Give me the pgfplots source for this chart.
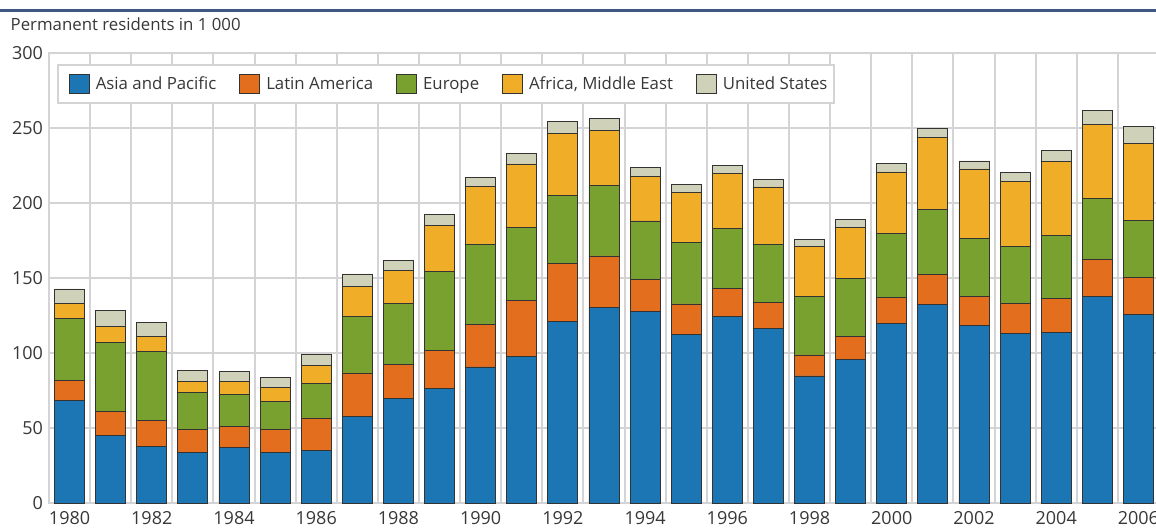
\documentclass[border=0pt]{standalone}
\usepackage{pgfplots}
\pgfplotsset{compat=1.18}
\usepackage{pgfplotstable}
\usepackage{fontspec}
\setmainfont{Open Sans}

\definecolor{asiac}{RGB}{29,118,180}
\definecolor{latinc}{RGB}{227,111,30}
\definecolor{europec}{RGB}{121,161,48}
\definecolor{africac}{RGB}{240,174,40}
\definecolor{usc}{RGB}{207,209,185}
\definecolor{gridgray}{RGB}{212,212,214}
\definecolor{txtgray}{RGB}{55,55,55}
\definecolor{titleblue}{RGB}{62,88,130}

\pgfplotstableread{
idx asia latin europe africa us
0  68.4 13.6 41.3  9.6  9.8
1  44.9 16.0 46.2 10.5 10.6
2  37.8 17.1 46.2  9.8  9.5
3  33.5 15.6 24.4  7.4  7.6
4  37.3 13.8 21.4  8.4  6.9
5  33.8 15.3 18.9  9.1  6.9
6  35.1 21.6 22.9 12.2  7.3
7  57.8 28.9 37.7 20.0  8.3
8  69.6 22.6 40.7 22.4  6.7
9  76.2 25.8 52.2 31.1  7.1
10 90.7 28.4 53.1 38.7  6.4
11 98.0 37.3 48.5 42.2  6.9
12 121.3 38.3 45.3 41.5 8.0
13 130.4 34.3 46.9 36.8 7.8
14 128.0 21.1 38.9 29.6 6.2
15 112.2 20.5 41.3 33.1 5.1
16 124.2 18.9 40.0 36.7 5.5
17 116.4 17.6 38.4 38.3 4.9
18 84.7 14.0 39.3 33.3 4.7
19 95.8 15.1 39.1 33.6 5.5
20 119.8 17.1 42.9 40.9 5.7
21 132.2 20.2 43.2 48.2 6.0
22 118.2 19.6 38.6 46.3 5.3
23 113.1 20.2 37.6 43.5 6.0
24 113.8 22.4 42.0 49.4 7.5
25 137.6 24.6 40.7 49.3 9.4
26 125.8 24.4 38.0 51.6 11.1
}\data

\begin{document}
\begin{tikzpicture}
\path[use as bounding box] (0pt,0pt) rectangle (1156pt,528pt);
\draw[line width=3pt, titleblue] (0pt,517.5pt) -- (1156pt,517.5pt);
\node[anchor=base west, inner sep=0pt, text=txtgray, font=\fontsize{16.8}{20}\selectfont] at (10.5pt,497.3pt) {Permanent residents in 1 000};
\begin{axis}[
  at={(49pt,25pt)}, anchor=south west,
  scale only axis, width=1110pt, height=450pt,
  xmin=-0.5, xmax=26.5, ymin=0, ymax=300,
  ybar stacked, bar width=0.73,
  xtick={0,2,...,26},
  xticklabels={1980,1982,1984,1986,1988,1990,1992,1994,1996,1998,2000,2002,2004,2006},
  minor xtick={-0.5,0.5,...,26.5},
  ytick={0,50,...,300},
  yticklabels={0,50,100,150,200,250,300},
  xmajorgrids=false, xminorgrids=true, ymajorgrids=true,
  grid style={draw=gridgray, line width=2pt},
  minor grid style={draw=gridgray, line width=2pt},
  axis line style={draw=gridgray, line width=2pt},
  major tick length=0pt, minor tick length=0pt,
  tick label style={text=txtgray, font=\fontsize{18}{21}\selectfont},
  xticklabel style={yshift=-4.5pt},
  yticklabel style={xshift=-2.5pt},
  /pgf/number format/assume math mode=true,
  legend columns=5,
  legend style={at={(0.0072,0.9756)}, anchor=north west, draw=gridgray, line width=2pt, fill=white,
    font=\fontsize{16.8}{20}\selectfont, text=txtgray,
    inner xsep=6pt, inner ysep=9pt,
    nodes={inner sep=0pt},
    /tikz/every odd column/.append style={column sep=6pt},
    /tikz/every even column/.append style={column sep=18pt}},
  legend image code/.code={\path (-5pt,0pt); \draw[#1, line width=0.9pt, draw=black!80] (0pt,-9.5pt) rectangle (20pt,9.5pt);},
  every axis plot/.append style={draw=black!80, line width=0.8pt},
]
\addplot[fill=asiac] table[x=idx,y=asia]{\data};
\addplot[fill=latinc] table[x=idx,y=latin]{\data};
\addplot[fill=europec] table[x=idx,y=europe]{\data};
\addplot[fill=africac] table[x=idx,y=africa]{\data};
\addplot[fill=usc] table[x=idx,y=us]{\data};
\legend{Asia and Pacific, Latin America, Europe, {Africa, Middle East}, United States}
\end{axis}
\end{tikzpicture}
\end{document}
